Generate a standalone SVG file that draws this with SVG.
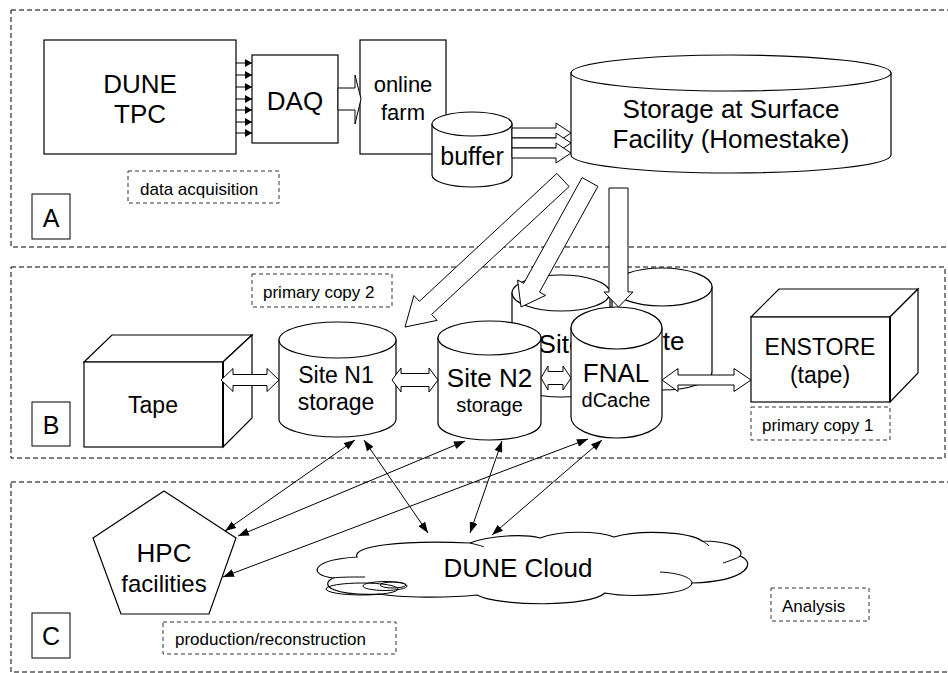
<svg xmlns="http://www.w3.org/2000/svg" width="948" height="673" viewBox="0 0 948 673">
<defs>
<style>
.sec{fill:none;stroke:#000;stroke-width:1;stroke-dasharray:5,3}
.lbl{fill:none;stroke:#333;stroke-width:1;stroke-dasharray:4,3}
.sh{fill:#fff;stroke:#000;stroke-width:1.2}
.ln{fill:none;stroke:#000;stroke-width:1}
.ba{fill:#fff;stroke:#000;stroke-width:1}
text{font-family:"Liberation Sans",Arial,sans-serif;fill:#000}
.c{text-anchor:middle}
.big{font-size:26px}
.small{font-size:17px}
</style>
<marker id="ae" markerUnits="userSpaceOnUse" markerWidth="12" markerHeight="9" refX="11" refY="4" orient="auto"><path d="M0,0 L11,4 L0,8 z" fill="#000"/></marker>
<marker id="as" markerUnits="userSpaceOnUse" markerWidth="12" markerHeight="9" refX="0" refY="4" orient="auto"><path d="M11,0 L0,4 L11,8 z" fill="#000"/></marker>
<marker id="sm" markerUnits="userSpaceOnUse" markerWidth="8" markerHeight="8" refX="7" refY="4" orient="auto"><path d="M0,0 L7,4 L0,8 z" fill="#000"/></marker>
</defs>

<g id="sections">
<rect class="sec" x="11" y="10" width="945" height="237"/>
<rect class="sec" x="11" y="267" width="934" height="191"/>
<rect class="sec" x="11" y="482" width="945" height="190"/>
</g>

<g id="labelA"><rect class="ln" x="32" y="194" width="38" height="45"/><text class="c" x="51" y="227" font-size="25">A</text></g>
<g id="labelB"><rect class="ln" x="32" y="402" width="38" height="44"/><text class="c" x="51" y="434" font-size="25">B</text></g>
<g id="labelC"><rect class="ln" x="32" y="613" width="38" height="45"/><text class="c" x="51" y="645" font-size="25">C</text></g>

<g id="note-daq"><rect class="lbl" x="128" y="171" width="151" height="32"/><text x="140" y="195" class="small">data acquisition</text></g>
<g id="note-copy2"><rect class="lbl" x="252" y="274" width="140" height="33"/><text x="263" y="298" class="small">primary copy 2</text></g>
<g id="note-copy1"><rect class="lbl" x="751" y="407" width="139" height="33"/><text x="762" y="431" class="small">primary copy 1</text></g>
<g id="note-prod"><rect class="lbl" x="163" y="622" width="233" height="32"/><text x="175" y="645" class="small">production/reconstruction</text></g>
<g id="note-analysis"><rect class="lbl" x="771" y="588" width="98" height="33"/><text x="782" y="612" class="small">Analysis</text></g>

<g id="tpc"><rect class="sh" x="44" y="40" width="192" height="114"/><text class="c big" x="140" y="93">DUNE</text><text class="c big" x="140" y="123">TPC</text></g>
<g id="daq"><rect class="sh" x="252" y="55" width="86" height="88"/><text class="c big" x="295" y="110">DAQ</text></g>
<g id="farm"><rect class="sh" x="360" y="40" width="86" height="114"/><text class="c" x="403" y="92" font-size="22">online</text><text class="c" x="403" y="120" font-size="22">farm</text></g>
<g id="buffer"><path class="sh" d="M432,124 V175 A40,12 0 0 0 512,175 V124 Z"/><ellipse class="sh" cx="472" cy="124" rx="40" ry="12"/><text class="c" x="472" y="165" font-size="25">buffer</text></g>
<g id="surface"><path class="sh" d="M571,73 V155 A160,18 0 0 0 891,155 V73 Z"/><ellipse class="sh" cx="731" cy="73" rx="160" ry="18"/><text class="c big" x="731" y="118">Storage at Surface</text><text class="c big" x="731" y="148">Facility (Homestake)</text></g>

<g id="site-back2"><path class="sh" d="M612,287 V372 A50,18 0 0 0 712,372 V287 Z"/><ellipse class="sh" cx="662" cy="287" rx="50" ry="19"/><text class="c big" x="662" y="350">Site</text></g>
<g id="site-back1"><path class="sh" d="M512,293 V379 A49,18 0 0 0 610,379 V293 Z"/><ellipse class="sh" cx="561" cy="293" rx="49" ry="18"/><text class="c big" x="561" y="353">Site</text></g>

<g id="tape"><polygon class="sh" points="84,362 112,335 252,335 223,362"/><polygon class="sh" points="223,362 252,335 252,418 223,447"/><rect class="sh" x="84" y="362" width="139" height="85"/><line x1="223" y1="362" x2="223" y2="447" stroke="#000" stroke-width="2"/><text class="c" x="153" y="413" font-size="23">Tape</text></g>
<g id="enstore"><polygon class="sh" points="751,317 779,289 918,289 890,317"/><polygon class="sh" points="890,317 918,289 918,373 890,402"/><rect class="sh" x="751" y="317" width="139" height="85"/><line x1="890" y1="317" x2="890" y2="402" stroke="#000" stroke-width="2"/><text class="c" x="820" y="355" font-size="23">ENSTORE</text><text class="c" x="820" y="383" font-size="23">(tape)</text></g>

<g id="siteN1"><path class="sh" d="M279,340 V419 A58.5,18 0 0 0 396,419 V340 Z"/><ellipse class="sh" cx="337.5" cy="340" rx="58.5" ry="18"/><text class="c" x="336" y="383" font-size="23">Site N1</text><text class="c" x="336" y="410" font-size="23">storage</text></g>
<g id="siteN2"><path class="sh" d="M438,338 V423 A51.5,17 0 0 0 541,423 V338 Z"/><ellipse class="sh" cx="489.5" cy="338" rx="51.5" ry="17"/><text class="c big" x="489.5" y="387">Site N2</text><text class="c" x="489.5" y="412" font-size="20">storage</text></g>
<g id="fnal"><path class="sh" d="M571,328 V417 A45.5,21 0 0 0 662,417 V328 Z"/><ellipse class="sh" cx="616.5" cy="328" rx="45.5" ry="21"/><text class="c big" x="616" y="382">FNAL</text><text class="c" x="616" y="407" font-size="20">dCache</text></g>

<g id="hpc"><polygon class="sh" points="164,491 236,538 209,614 121,614 93,538"/><text class="c big" x="164" y="562">HPC</text><text class="c" x="164" y="592" font-size="24">facilities</text></g>

<g id="cloud">
<path class="sh" d="M357,557 C352,546 400,540 470,543 C490,535 525,534 540,538 C560,530 600,531 614,537 C640,529 690,532 702,541 C730,541 745,549 740,556 C756,562 750,581 692,583 C690,595 630,598 605,593 C590,607 500,607 477,595 C450,598 400,598 380,594 C335,596 318,586 333,578 C308,575 310,560 357,557 Z"/>
<path class="ln" d="M723,563 C732,560 738,558 740,556 M660,572 C680,573 692,578 692,583 M365,577 C350,577 340,577 333,578 M470,543 C478,545 482,546 484,547 M702,541 C706,543 708,545 709,546"/>
<ellipse class="ln" cx="362" cy="589" rx="36" ry="6"/>
<ellipse class="ln" cx="385" cy="586" rx="22" ry="4.5"/>
<ellipse class="ln" cx="393" cy="585" rx="13" ry="3"/>
<text class="c big" x="518" y="577">DUNE Cloud</text>
</g>

<g id="connectors">
<g class="ln">
<line x1="236" y1="63" x2="252" y2="63" marker-end="url(#sm)"/>
<line x1="236" y1="75" x2="252" y2="75" marker-end="url(#sm)"/>
<line x1="236" y1="87" x2="252" y2="87" marker-end="url(#sm)"/>
<line x1="236" y1="99" x2="252" y2="99" marker-end="url(#sm)"/>
<line x1="236" y1="110" x2="252" y2="110" marker-end="url(#sm)"/>
<line x1="236" y1="122" x2="252" y2="122" marker-end="url(#sm)"/>
<line x1="236" y1="133" x2="252" y2="133" marker-end="url(#sm)"/>
</g>
<polygon class="ba" points="338,88 355,88 355,75 361,99 355,124 355,110 338,110"/>
<polygon class="ba" points="512,128 556,128 556,123 571,133 556,143 556,138 512,138"/>
<polygon class="ba" points="512,138 556,138 556,133 571,143 556,153 556,148 512,148"/>
<polygon class="ba" points="512,148 556,148 556,143 571,153 556,163 556,158 512,158"/>
<polygon class="ba" points="569.1,186.6 431.6,314.5 437.1,320.4 405,327 413.9,295.5 419.4,301.3 556.9,173.4"/>
<polygon class="ba" points="597.9,186.4 539.5,292.1 545.6,295.4 521,307 517.6,280 523.7,283.4 582.1,177.6"/>
<polygon class="ba" points="609,188 628,188 628,292 633,292 618.5,307 604,292 609,292"/>
<polygon class="ba" points="221,380 233,368.5 233,374.5 267,374.5 267,368.5 279,380 267,391.5 267,385.5 233,385.5 233,391.5"/>
<polygon class="ba" points="392,380 401,368 401,373.5 429,373.5 429,368 438,380 429,392 429,386.5 401,386.5 401,392"/>
<polygon class="ba" points="541,378 548,366 548,371.5 563,371.5 563,366 571,378 563,390 563,384.5 548,384.5 548,390"/>
<polygon class="ba" points="662,380 678,368.5 678,375 734,375 734,368.5 751,380 734,391.5 734,385 678,385 678,391.5"/>
<g class="ln">
<line x1="355" y1="440" x2="225" y2="531" marker-start="url(#as)" marker-end="url(#ae)"/>
<line x1="364" y1="440" x2="428" y2="533" marker-start="url(#as)" marker-end="url(#ae)"/>
<line x1="465" y1="441" x2="238" y2="536" marker-start="url(#as)" marker-end="url(#ae)"/>
<line x1="502" y1="441" x2="470" y2="533" marker-start="url(#as)" marker-end="url(#ae)"/>
<line x1="588" y1="439" x2="223" y2="577" marker-start="url(#as)" marker-end="url(#ae)"/>
<line x1="602" y1="440" x2="492" y2="535" marker-start="url(#as)" marker-end="url(#ae)"/>
</g>
</g>
</svg>
